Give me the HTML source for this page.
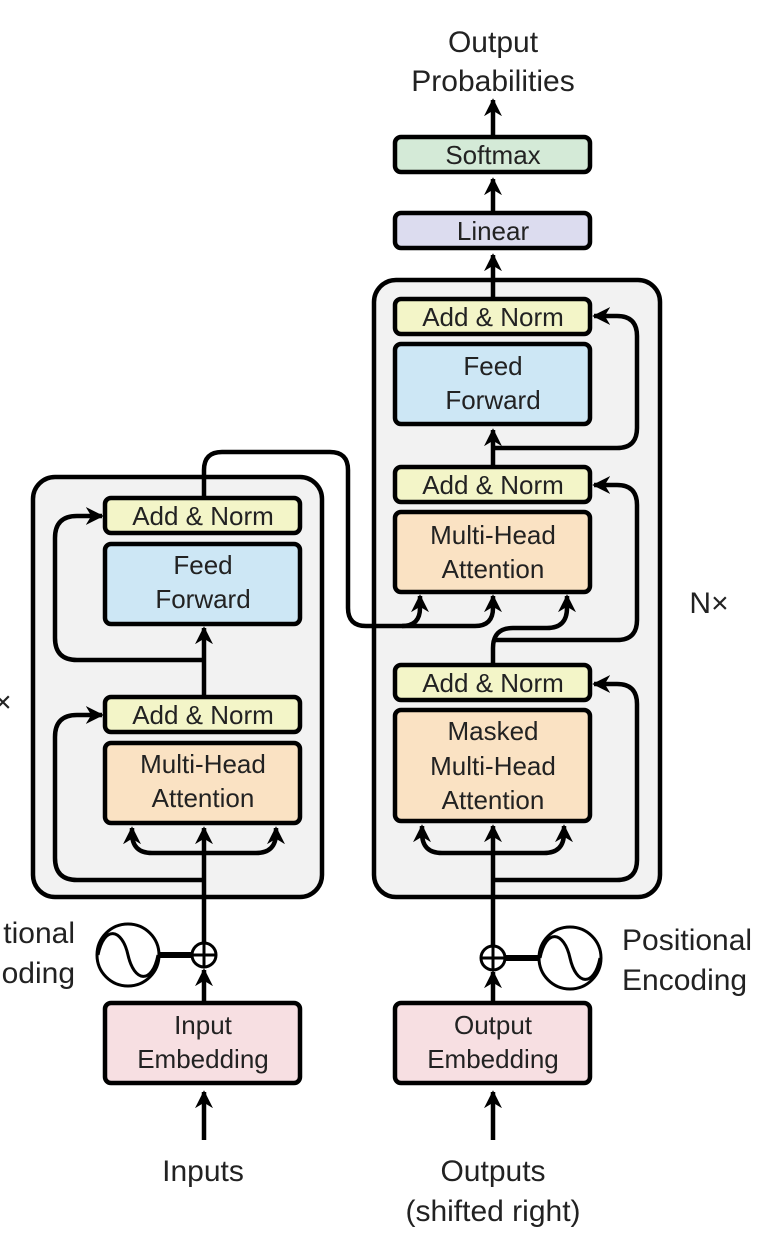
<!DOCTYPE html>
<html><head><meta charset="utf-8"><style>
html,body{margin:0;padding:0;background:#fff;}
svg{display:block;}
text{font-family:"Liberation Sans",sans-serif;fill:#222;text-anchor:middle;}
</style></head><body>
<svg width="768" height="1250" viewBox="0 0 768 1250" xmlns="http://www.w3.org/2000/svg">
<defs>
<marker id="a" viewBox="0 0 10 10" refX="9" refY="5" markerWidth="4" markerHeight="4" orient="auto-start-reverse" markerUnits="strokeWidth">
<path d="M0,0 L10,5 L0,10 L3,5 z" fill="#000"/>
</marker>
</defs>
<g stroke="#000" stroke-width="4.5" fill="none">
<rect x="33" y="477" width="289" height="420" rx="22" fill="#f2f2f2"/>
<rect x="374" y="280" width="286" height="617" rx="22" fill="#f2f2f2"/>

<path d="M204,1003 V970" marker-end="url(#a)"/>
<path d="M204,945 V828" marker-end="url(#a)"/>
<path d="M204,880 H77 Q55,880 55,858 V737 Q55,715 77,715 H102" marker-end="url(#a)"/>
<path d="M204,853 H152 Q132,853 132,833 V828" marker-end="url(#a)"/>
<path d="M204,853 H256 Q276,853 276,833 V828" marker-end="url(#a)"/>
<path d="M204,697 V628" marker-end="url(#a)"/>
<path d="M204,660 H77 Q55,660 55,638 V538 Q55,516 77,516 H102" marker-end="url(#a)"/>
<path d="M204,498 V470 Q204,452 222,452 H330 Q348,452 348,470 V608 Q348,626 366,626 H402 Q420,626 420,608 V596" marker-end="url(#a)"/>
<path d="M402,626 H475 Q493,626 493,608 V596" marker-end="url(#a)"/>
<path d="M160,955 H194" stroke-width="6"/>

<path d="M493,1003 V972" marker-end="url(#a)"/>
<path d="M493,946 V826" marker-end="url(#a)"/>
<path d="M493,880 H617 Q637,880 637,860 V704 Q637,684 617,684 H594" marker-end="url(#a)"/>
<path d="M493,853 H442 Q422,853 422,833 V826" marker-end="url(#a)"/>
<path d="M493,853 H544 Q564,853 564,833 V826" marker-end="url(#a)"/>
<path d="M493,665 V648 Q493,628 513,628 H547 Q567,628 567,608 V596" marker-end="url(#a)"/>
<path d="M493,640 H617 Q637,640 637,620 V505 Q637,485 617,485 H594" marker-end="url(#a)"/>
<path d="M493,467 V430" marker-end="url(#a)"/>
<path d="M493,448 H617 Q637,448 637,428 V336 Q637,316 617,316 H594" marker-end="url(#a)"/>
<path d="M493,299 V255" marker-end="url(#a)"/>
<path d="M493,213 V179" marker-end="url(#a)"/>
<path d="M493,137 V100" marker-end="url(#a)"/>
<path d="M505,958 H540" stroke-width="6"/>
<path d="M204,1140 V1092" marker-end="url(#a)"/>
<path d="M493,1140 V1092" marker-end="url(#a)"/>

<rect x="105" y="498" width="195" height="35" rx="6" fill="#f3f5c8"/>
<rect x="105" y="544" width="195" height="80" rx="6" fill="#cde7f5"/>
<rect x="105" y="697" width="195" height="35" rx="6" fill="#f3f5c8"/>
<rect x="105" y="743" width="195" height="80" rx="6" fill="#fae2c3"/>
<rect x="105" y="1003" width="195" height="80" rx="6" fill="#f7dfe2"/>
<rect x="395" y="137" width="195" height="35" rx="6" fill="#d4ead7"/>
<rect x="395" y="213" width="195" height="35" rx="6" fill="#dcdcef"/>
<rect x="395" y="299" width="195" height="35" rx="6" fill="#f3f5c8"/>
<rect x="395" y="344" width="195" height="80" rx="6" fill="#cde7f5"/>
<rect x="395" y="467" width="195" height="35" rx="6" fill="#f3f5c8"/>
<rect x="395" y="512" width="195" height="80" rx="6" fill="#fae2c3"/>
<rect x="395" y="665" width="195" height="35" rx="6" fill="#f3f5c8"/>
<rect x="395" y="710" width="195" height="111" rx="6" fill="#fae2c3"/>
<rect x="395" y="1003" width="195" height="80" rx="6" fill="#f7dfe2"/>

<g stroke-width="3">
<circle cx="204" cy="955" r="12" fill="#fff"/>
<path d="M193,955 H215 M204,944 V966"/>
<circle cx="128" cy="955" r="31" fill="#fff"/>
<path d="M98,955 C104,925 122,928 128,955 C134,982 152,985 158,955"/>
<circle cx="493" cy="958" r="12" fill="#fff"/>
<path d="M482,958 H504 M493,947 V969"/>
<circle cx="570" cy="958" r="31" fill="#fff"/>
<path d="M540,958 C546,928 564,931 570,958 C576,985 594,988 600,958"/>
</g>
</g>

<g font-size="26">
<text x="203" y="525">Add &amp; Norm</text>
<text x="203" y="574">Feed</text>
<text x="203" y="608">Forward</text>
<text x="203" y="724">Add &amp; Norm</text>
<text x="203" y="773">Multi-Head</text>
<text x="203" y="807">Attention</text>
<text x="203" y="1034">Input</text>
<text x="203" y="1068">Embedding</text>
<text x="493" y="164">Softmax</text>
<text x="493" y="240">Linear</text>
<text x="493" y="326">Add &amp; Norm</text>
<text x="493" y="375">Feed</text>
<text x="493" y="409">Forward</text>
<text x="493" y="494">Add &amp; Norm</text>
<text x="493" y="544">Multi-Head</text>
<text x="493" y="578">Attention</text>
<text x="493" y="692">Add &amp; Norm</text>
<text x="493" y="740">Masked</text>
<text x="493" y="775">Multi-Head</text>
<text x="493" y="809">Attention</text>
<text x="493" y="1034">Output</text>
<text x="493" y="1068">Embedding</text>
</g>
<g font-size="30">
<text x="493" y="52">Output</text>
<text x="493" y="91">Probabilities</text>
<text x="203" y="1181">Inputs</text>
<text x="493" y="1181">Outputs</text>
<text x="493" y="1221">(shifted right)</text>
<text x="709" y="613">N×</text>
<text x="-8" y="712">N×</text>
<text x="75" y="943" style="text-anchor:end">tional</text>
<text x="75" y="983" style="text-anchor:end">oding</text>
<text x="622" y="950" style="text-anchor:start">Positional</text>
<text x="622" y="990" style="text-anchor:start">Encoding</text>
</g>
</svg>
</body></html>
